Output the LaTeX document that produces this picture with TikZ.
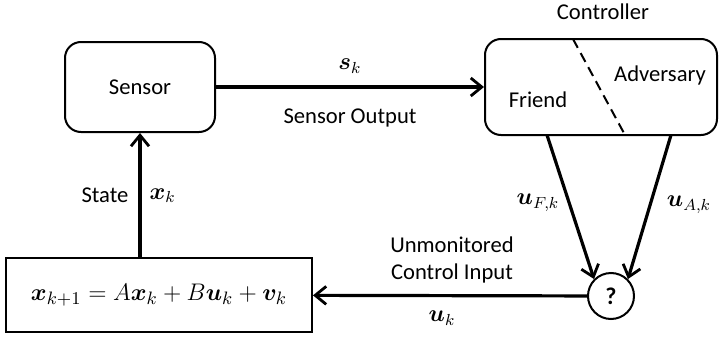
\documentclass[tikz,border=0pt]{standalone}
\usepackage{fontspec}
\setmainfont{Carlito}
\usepackage{amsmath}
\usepackage{bm}
\usetikzlibrary{arrows.meta}
\begin{document}
\begin{tikzpicture}[x=0.5pt,y=-0.5pt,
  font=\fontsize{11.3}{13.5}\selectfont,
  blockbox/.style={draw,line width=1pt,rounded corners=8pt,inner sep=0pt},
  flow/.style={line width=1.6pt,-{Straight Barb[length=5.5pt,width=9pt,line width=1.4pt]}},
  lbl/.style={inner sep=1pt},
  mathlbl/.style={inner sep=1pt,font=\fontsize{12}{14}\selectfont}]
\useasboundingbox (0,0) rectangle (719,338);

% sensor block
\node[blockbox,minimum width=75pt,minimum height=45pt] (sensor) at (140,87) {Sensor};

% controller block, split between friend and adversary
\node[blockbox,minimum width=116pt,minimum height=48pt] (ctrl) at (601,87) {};
\draw[line width=1pt,dash pattern=on 5pt off 3pt] (573,39) -- (625,135);
\node (ctrltitle) at (603,12) {Controller};
\node (friend) at (538,100) {Friend};
\node (adv) at (660,75) {Adversary};
\coordinate (ctrlF) at (547,135);
\coordinate (ctrlA) at (671,135);

% plant block
\node[draw,line width=1pt,minimum width=153pt,minimum height=37pt,
      font=\fontsize{12.4}{14}\selectfont] (plant) at (159,295)
  {$\bm{x}_{k+1} = A\bm{x}_k + B\bm{u}_k + \bm{v}_k$};
\coordinate (plantT) at (140,258);

% switch
\node[draw,circle,line width=1pt,minimum size=23pt,inner sep=0pt,
      font=\fontsize{12}{12}\selectfont\bfseries] (sw) at (611,296) {?};

% connectors
\draw[flow] (sensor) -- (ctrl)
  node[midway,above=5pt,mathlbl] (sk) {$\bm{s}_k$}
  node[midway,below=9pt,lbl] (sout) {Sensor Output};
\draw[flow] (plantT) -- (sensor)
  node[pos=0.5,left=4pt,lbl] (state) {State}
  node[pos=0.5,right=3pt,mathlbl] (xk) {$\bm{x}_k$};
\draw[flow] (ctrlF) -- (sw.north west);
\draw[flow] (ctrlA) -- (sw.north east);
\node[mathlbl] (uF) at (538,203) {$\bm{u}_{F,k}$};
\node[mathlbl] (uA) at (689,205) {$\bm{u}_{A,k}$};
\draw[flow] (sw) -- (plant);
\node[lbl,align=center] (unmon) at (452,260) {Unmonitored\\Control Input};
\node[mathlbl] (uk) at (442,318) {$\bm{u}_k$};
\end{tikzpicture}
\end{document}
